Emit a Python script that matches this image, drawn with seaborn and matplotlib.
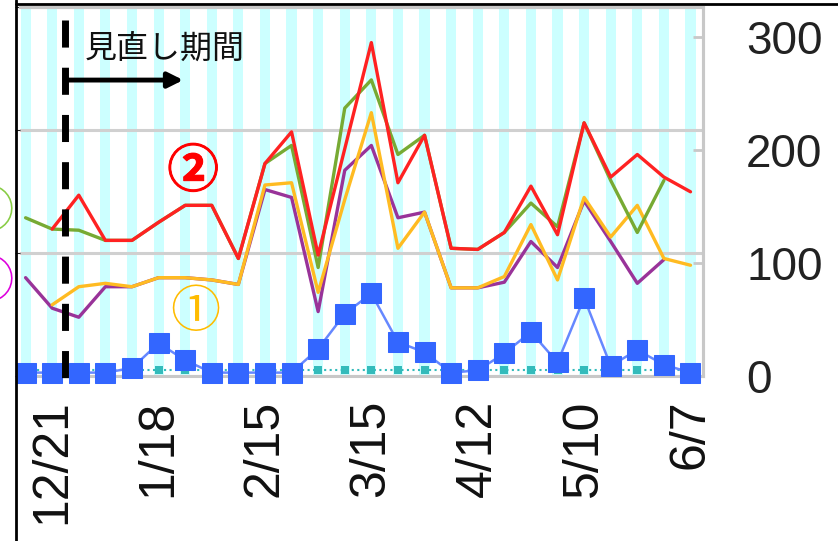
import numpy as np
import pandas as pd
import seaborn as sns
import matplotlib.pyplot as plt
from matplotlib.lines import Line2D
import matplotlib.transforms as mtransforms
import matplotlib.patheffects as pe

sns.set_style('white')
plt.rcParams['font.family'] = ['Liberation Sans', 'Noto Sans CJK JP', 'DejaVu Sans']

# weekly dates
weeks = ['12/14', '12/21', '12/28', '1/4', '1/11', '1/18', '1/25', '2/1', '2/8', '2/15',
         '2/22', '3/1', '3/8', '3/15', '3/22', '3/29', '4/5', '4/12', '4/19', '4/26',
         '5/3', '5/10', '5/17', '5/24', '5/31', '6/7']

# series values
red = [np.nan, 130, 160, 120, 120, 136, 151, 151, 104, 188, 216, 107, 201, 295, 171, 213,
       113, 112, 127, 168, 125, 224, 176, 196, 176, 163]
green = [140, 130, 129, 120, 120, 136, 151, 151, 104, 188, 204, 96, 237, 262, 196, 213,
         113, 112, 127, 153, 132, 224, 173, 127, 173, np.nan]
yellow = [np.nan, 63, 79, 82, 79, 87, 87, 85, 81, 169, 171, 74, 156, 233, 113, 145,
          78, 78, 88, 134, 85, 158, 123, 151, 104, 98]
purple = [87, 60, 52, 79, 79, 87, 87, 85, 81, 165, 158, 57, 182, 204, 140, 145,
          78, 78, 83, 119, 96, 155, 119, 82, 103, np.nan]
blue = [3, 3, 3, 3, 7, 29, 14, 3, 3, 3, 3, 24, 55, 73, 30, 21, 3, 5, 20, 39, 12, 69, 9, 23, 10, 3]
teal = [5, 5, 5, 5, 5, 5, 5, 5, 5, 5, 5, 5, 5, 5, 5, 5, 5, 5, 5, 5, 5, 5, 5, 5, 5, 5]

left_ticks = [0, 100, 200, 300]
right_ticks = [0, 100, 200, 300]
label_idx = [1, 5, 9, 13, 17, 21, 25]

df = pd.DataFrame({'week': np.arange(len(weeks)), 'red': red, 'green': green,
                   'yellow': yellow, 'purple': purple, 'blue': blue, 'teal': teal})

fig = plt.figure(figsize=(8.38, 5.41), dpi=100)
ax = fig.add_axes([20 / 838, 1 - 376 / 541, 683 / 838, 369 / 541])
ax.set_xlim(-0.21, 25.47)
ax.set_ylim(0, 300)

# light cyan stripes at every week
for i in range(len(weeks)):
    ax.axvspan(i - 0.19, i + 0.19, color='#ccffff', lw=0, zorder=0)

ax.set_yticks(left_ticks)
ax.yaxis.grid(True, color='#d0d0d0', lw=2.2, zorder=1)
ax.set_axisbelow(True)
ax.tick_params(axis='y', left=False, labelleft=False)

ax.set_xticks(label_idx)
ax.set_xticklabels([weeks[i] for i in label_idx], rotation=90, fontsize=36, color='#111111')
ax.tick_params(axis='x', length=0, pad=17)
ax.set_xticks(np.arange(len(weeks)) + 0.5, minor=True)
ax.tick_params(axis='x', which='minor', direction='in', length=10, width=2.5, color='#d4d4d4')

ax.spines['left'].set_visible(False)
for s in ['top', 'bottom', 'right']:
    ax.spines[s].set_color('#c8c8c8')
    ax.spines[s].set_linewidth(2.2)

# right axis carrying the data
ax2 = ax.twinx()
ax2.set_ylim(0, 326.5)
ax2.set_yticks(right_ticks)
ax2.set_yticklabels([str(t) for t in right_ticks], fontsize=33, color='#222222')
ax2.tick_params(axis='y', direction='in', length=7, width=2, color='#c8c8c8', pad=31)
for s in ['left', 'top', 'bottom']:
    ax2.spines[s].set_visible(False)
ax2.spines['right'].set_color('#c8c8c8')
ax2.spines['right'].set_linewidth(2.2)

sns.lineplot(data=df, x='week', y='teal', ax=ax2, color='#33bbbb', lw=1.5, ls=':',
             marker='s', markersize=6, markeredgewidth=0, zorder=2)
sns.lineplot(data=df, x='week', y='purple', ax=ax2, color='#993399', lw=2.4, zorder=3)
sns.lineplot(data=df, x='week', y='yellow', ax=ax2, color='#ffbb22', lw=2.4, zorder=4)
sns.lineplot(data=df, x='week', y='green', ax=ax2, color='#77aa33', lw=2.4, zorder=5)
sns.lineplot(data=df, x='week', y='red', ax=ax2, color='#ff2222', lw=2.4, zorder=6)
sns.lineplot(data=df, x='week', y='blue', ax=ax2, color='#6688ff', lw=1.8, marker='s',
             markersize=14, markerfacecolor='#3366ff', markeredgecolor='#3366ff',
             zorder=7, clip_on=False)
ax2.set_xlabel('')
ax2.set_ylabel('')
ax.set_xlabel('')
ax.set_ylabel('')
ax2.set_xlim(-0.21, 25.47)

# start of review period
trans = mtransforms.blended_transform_factory(ax2.transData, ax2.transAxes)
ax2.plot([1.5, 1.5], [0.965, -0.011], transform=trans, color='black', lw=5,
         ls=(0, (3.9, 2.9)), clip_on=False, zorder=10)
ax2.annotate('', xy=(0.239, 0.802), xytext=(0.066, 0.802), xycoords='axes fraction',
             arrowprops=dict(arrowstyle='-|>,head_length=0.9,head_width=0.45',
                             color='black', lw=3.5, shrinkA=0, shrinkB=0), zorder=10)
ax2.text(0.095, 0.886, '見直し期間', transform=ax2.transAxes, fontsize=23,
         family=['Noto Sans CJK JP'], va='center', ha='left', color='#111111', zorder=10)

ax2.text(6.3, 181, '②', fontsize=37, family=['Noto Sans CJK JP'], fontweight='bold',
         color='#ff0000', ha='center', va='center', zorder=10,
         path_effects=[pe.withStroke(linewidth=0.7, foreground='#ff0000')])
ax2.text(6.37, 56, '①', fontsize=36, family=['Noto Sans CJK JP'],
         color='#ffbb00', ha='center', va='center', zorder=10)

# labels cut off at the left edge of the screenshot
fig.text(-12 / 838, 1 - 213 / 541, '③', fontsize=37, family=['Noto Sans CJK JP'],
         color='#88cc44', ha='center', va='center')
fig.text(-12 / 838, 1 - 283 / 541, '④', fontsize=37, family=['Noto Sans CJK JP'],
         color='#dd00dd', ha='center', va='center')

# frame lines of the screenshot
fig.add_artist(Line2D([16 / 838, 16 / 838], [0, 1], color='black', lw=2))
fig.add_artist(Line2D([16 / 838, 1], [1 - 4 / 541, 1 - 4 / 541], color='black', lw=2))

fig.savefig('out.png', dpi=100)
